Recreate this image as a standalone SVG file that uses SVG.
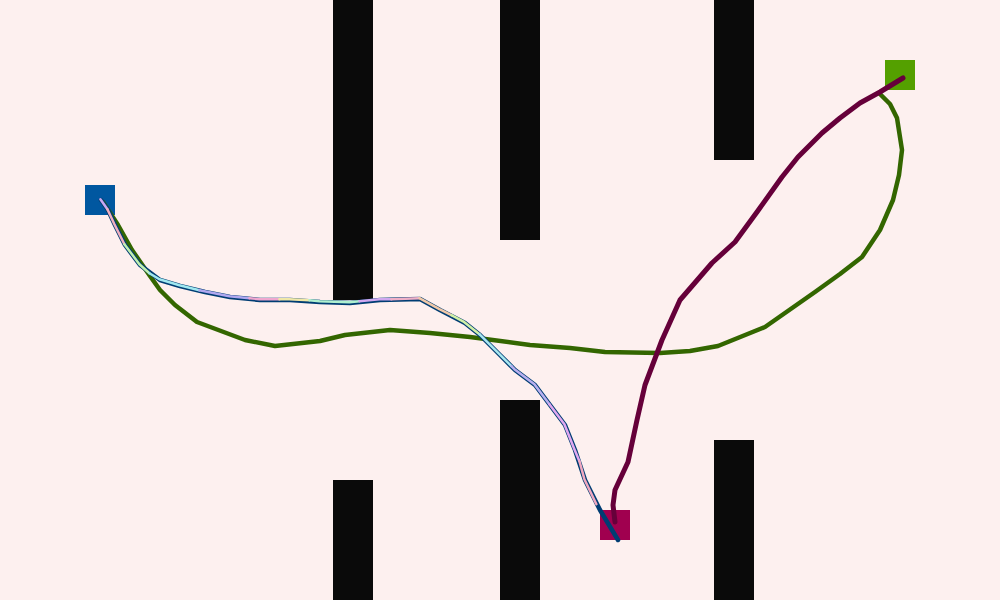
<svg xmlns="http://www.w3.org/2000/svg" width="1000" height="600" viewBox="0 0 1000 600">
<style>
.bar{fill:#0a0a0a}
.p{fill:none;stroke-linecap:round;stroke-linejoin:round}
.g{stroke:#336600;stroke-width:4.5}
.m{stroke:#66003a;stroke-width:5}
.b{stroke:#003d73;stroke-width:4.5}
.i{stroke-width:2.5}
</style>
<rect width="1000" height="600" fill="#fdf0ef"/>
<g id="obstacles">
<rect class="bar" x="333" y="0" width="40" height="300"/>
<rect class="bar" x="333" y="480" width="40" height="120"/>
<rect class="bar" x="500" y="0" width="40" height="240"/>
<rect class="bar" x="500" y="400" width="40" height="200"/>
<rect class="bar" x="714" y="0" width="40" height="160"/>
<rect class="bar" x="714" y="440" width="40" height="160"/>
</g>
<g id="start"><rect x="85" y="185" width="30" height="30" fill="#0057a0"/></g>
<g id="goal-green"><rect x="885" y="60" width="30" height="30" fill="#54a000"/></g>
<g id="goal-magenta"><rect x="600" y="510" width="30" height="30" fill="#a0004f"/></g>
<g id="connectors">
<polyline class="p g" points="880,94 890,104 897,118 902,150 899,175 893,200 880,230 862,257 840,274 815,292 765,327 718,346 690,351 660,353 605,352 570,348 530,345 470,337 430,333 390,330 345,335 320,341 275,346 245,340 197,322 175,305 160,290 150,276 132,250 118,225 103,202"/>
<polyline class="p b" points="101,200 108,210 115,225 125,245 140,265 160,280 180,286 205,292 230,297 260,300 290,300 320,302 350,303 380,300 420,299 440,310 465,323 480,335 500,355 515,370 535,385 550,405 565,425 575,450 585,480 600,510 618,540"/>
<g class="p i" transform="translate(-0.6,-0.8)">
<polyline stroke="#c8a8f0" points="101,200 108,210"/>
<polyline stroke="#f0b0c0" points="108,210 115,225 125,245"/>
<polyline stroke="#c0f0b0" points="125,245 140,265 150,274"/>
<polyline stroke="#a0e8f0" points="150,274 160,280 180,286 200,291"/>
<polyline stroke="#b0a8f0" points="200,291 230,297 250,299"/>
<polyline stroke="#f0a8d0" points="250,299 260,300 280,300"/>
<polyline stroke="#f0e8a8" points="280,300 290,300 310,301"/>
<polyline stroke="#b0f0d0" points="310,301 320,302 350,303 360,302"/>
<polyline stroke="#d0a8f0" points="360,302 380,300 392,300"/>
<polyline stroke="#f0b0c8" points="392,300 420,299"/>
<polyline stroke="#f0c8a8" points="420,299 440,310 452,316"/>
<polyline stroke="#d0f0a8" points="452,316 465,323 480,335"/>
<polyline stroke="#a8e8f0" points="480,335 500,355 512,367"/>
<polyline stroke="#b8b0f0" points="512,367 515,370 535,385 550,405"/>
<polyline stroke="#e0a8f0" points="550,405 565,425 575,450 580,462"/>
<polyline stroke="#f0a8c0" points="580,462 585,480 597,505"/>
</g>
<polyline class="p m" points="903,78 880,92 860,103 840,118 822,133 798,157 782,177 757,212 735,242 712,263 680,300 662,340 645,385 637,420 628,462 615,490 613,505 615,522"/>
</g>
</svg>
